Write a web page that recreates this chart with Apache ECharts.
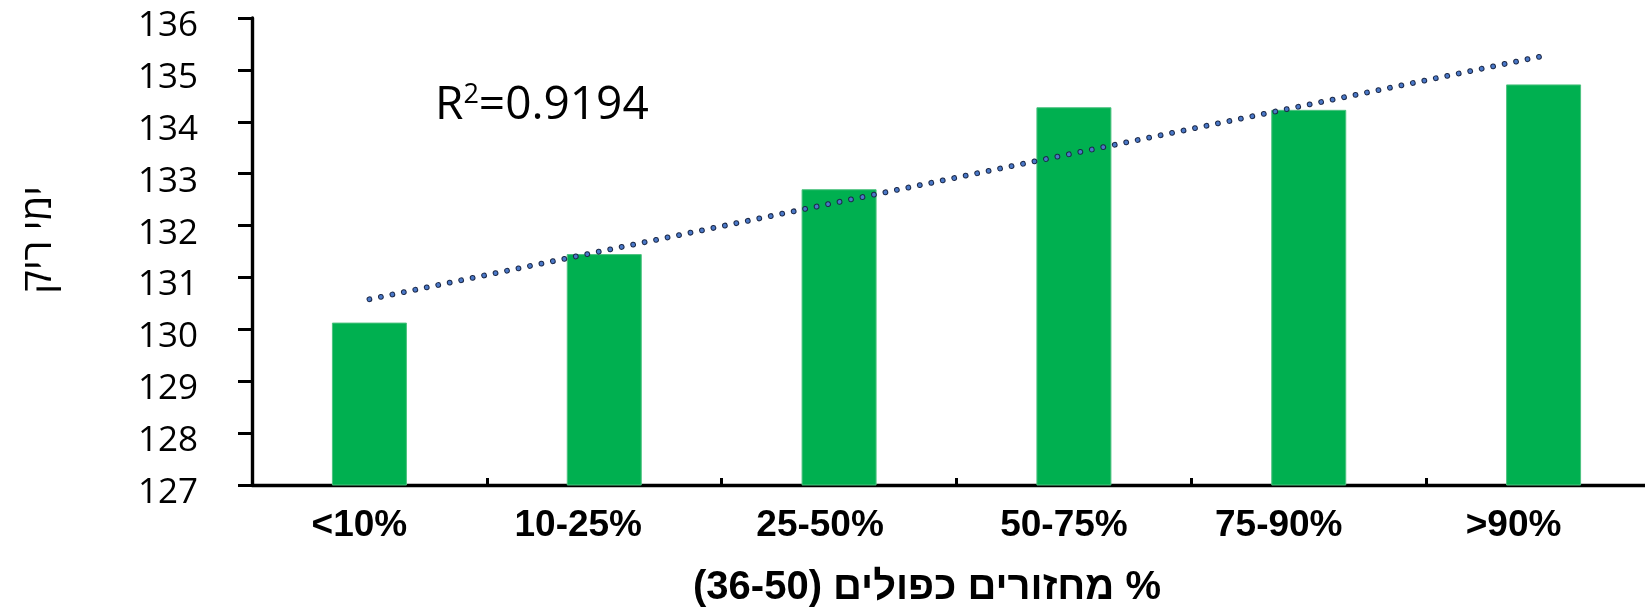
<!DOCTYPE html>
<html>
<head>
<meta charset="utf-8">
<script src="https://cdn.jsdelivr.net/npm/echarts@6/dist/echarts.min.js"></script>
<style>
html,body{margin:0;padding:0;background:#fff;}
#chart{width:1645px;height:608px;}
</style>
</head>
<body>
<div id="chart"></div>
<script>
// ---- data ----
const categories = ['<10%', '10-25%', '25-50%', '50-75%', '75-90%', '>90%'];
const emptyDays = [130.13, 131.45, 132.70, 134.28, 134.23, 134.72];
// trend line end points
const trendCats = ['<10%', '>90%'];
const trendVals = [130.58, 135.27];
const yTicks = {min: 127, max: 136, interval: 1};
const rSquaredText = '0.9194';
const xTitle = '% מחזורים כפולים (36-50)';
const yTitle = 'ימי ריק';

// ---- styling (label horizontal nudges, px; not data) ----
const labelNudge = [-10, -26, -19, -10, -30, -30];

const chart = echarts.init(document.getElementById('chart'), null, {renderer: 'canvas'});
const trendData = trendCats.map((c, i) => [c, trendVals[i]]);
const dotPattern = [0.01, 11.7];
const xData = categories.map((c, i) => ({
  value: c,
  textStyle: {padding: labelNudge[i] < 0 ? [0, -2 * labelNudge[i], 0, 0] : [0, 0, 0, 2 * labelNudge[i]]}
}));

chart.setOption({
  animation: false,
  backgroundColor: '#ffffff',
  grid: {left: 252, top: 18, width: 1409, bottom: 123, containLabel: false, outerBoundsMode: 'none'},
  xAxis: {
    type: 'category',
    data: xData,
    boundaryGap: true,
    axisLine: {show: true, lineStyle: {color: '#000', width: 3.4}},
    axisTick: {show: true, inside: true, length: 7, lineStyle: {color: '#000', width: 3}},
    axisLabel: {
      color: '#000', fontFamily: 'Liberation Sans', fontWeight: 'bold', fontSize: 37,
      margin: 22, interval: 0
    },
    splitLine: {show: false}
  },
  yAxis: {
    type: 'value',
    min: yTicks.min, max: yTicks.max, interval: yTicks.interval,
    axisLine: {show: true, lineStyle: {color: '#000', width: 3.4}},
    axisTick: {show: true, inside: false, length: 14, lineStyle: {color: '#000', width: 3}},
    axisLabel: {color: '#000', fontFamily: 'Open Sans', fontSize: 35, margin: 54,
                verticalAlign: 'top', lineHeight: 16},
    splitLine: {show: false}
  },
  series: [
    {
      type: 'bar',
      data: emptyDays,
      barWidth: 75,
      itemStyle: {color: '#00B050', borderColor: '#4cc27f', borderWidth: 1},
      z: 2
    },
    {
      type: 'line',
      data: trendData,
      symbol: 'none',
      lineStyle: {color: '#1c2a4a', width: 5.8, type: dotPattern, cap: 'round'},
      z: 5, silent: true
    },
    {
      type: 'line',
      data: trendData,
      symbol: 'none',
      lineStyle: {color: '#4a78c8', width: 3.8, type: dotPattern, cap: 'round'},
      z: 6, silent: true
    }
  ],
  graphic: [
    {
      type: 'text', x: 40, y: 240, rotation: Math.PI / 2,
      style: {text: yTitle, fontFamily: 'Open Sans, DejaVu Sans', fontSize: 40, fill: '#000',
              textAlign: 'center', textVerticalAlign: 'middle'}
    },
    {
      type: 'text', x: 927, y: 588,
      style: {text: '\u200F' + xTitle + '\u200F', fontFamily: 'Liberation Sans', fontWeight: 'bold', fontSize: 40,
              fill: '#000', textAlign: 'center', textVerticalAlign: 'middle'}
    },
    {
      type: 'text', x: 435, y: 105,
      style: {
        text: '{a|R}{s|2}{a|=' + rSquaredText + '}',
        textAlign: 'left', textVerticalAlign: 'middle',
        rich: {
          a: {fontFamily: 'Open Sans', fontSize: 46, fill: '#000', verticalAlign: 'bottom'},
          s: {fontFamily: 'Open Sans', fontSize: 27, fill: '#000', verticalAlign: 'bottom', padding: [0, 0, 20, 0]}
        }
      }
    }
  ]
});
</script>
</body>
</html>
